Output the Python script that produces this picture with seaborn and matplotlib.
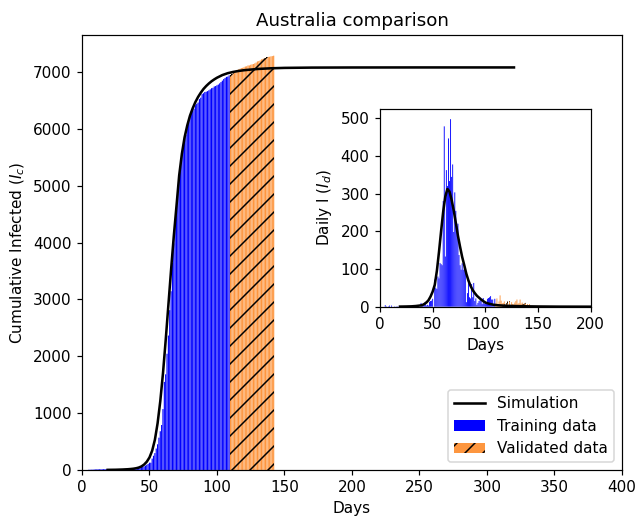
import numpy as np
import matplotlib
matplotlib.use("Agg")
import matplotlib.pyplot as plt
from matplotlib.lines import Line2D
from matplotlib.patches import Patch
import seaborn as sns

# ---- observed cumulative cases, day 0 .. day 142 ----
cum_cases = [
    0, 0, 0, 0, 0, 4, 5, 5, 6, 9,            # 0-9
    9, 12, 12, 12, 13, 13, 14, 15, 15, 15,   # 10-19
    15, 15, 15, 15, 15, 15, 15, 15, 15, 15,  # 20-29
    15, 15, 15, 15, 15, 15, 15, 15, 15, 25,  # 30-39
    27, 30, 39, 52, 55, 60, 63, 76, 91, 107,  # 40-49
    128, 128, 200, 250, 297, 377, 452, 568, 681, 791,  # 50-59
    1071, 1549, 1682, 2044, 2364, 2810, 3143, 3640, 3984, 4361,  # 60-69
    4559, 4862, 5116, 5330, 5550, 5687, 5797, 5895, 6010, 6108,  # 70-79
    6215, 6303, 6315, 6351, 6415, 6440, 6462, 6522, 6547, 6610,  # 80-89
    6625, 6647, 6652, 6662, 6677, 6694, 6714, 6721, 6744, 6752,  # 90-99
    6766, 6778, 6799, 6822, 6847, 6875, 6894, 6913, 6918, 6939,  # 100-109
    6948, 6970, 6975, 6989, 7019, 7035, 7044, 7054, 7068, 7072,  # 110-119
    7081, 7095, 7099, 7114, 7114, 7126, 7133, 7139, 7150, 7165,  # 120-129
    7184, 7192, 7202, 7221, 7229, 7240, 7247, 7255, 7265, 7267,  # 130-139
    7274, 7278, 7285,                                            # 140-142
]
train_end_day = 110   # first validation day

# ---- simulation ----
sim_days = [19, 25, 30, 34, 36, 38, 40, 42, 44, 46, 48, 50, 52, 54, 56, 58,
            60, 62, 64, 66, 68, 70, 72, 74, 76, 78, 80, 82, 84, 86, 88, 90,
            92, 94, 96, 98, 100, 104, 108, 112, 116, 120, 130, 140, 150,
            170, 200, 250, 320]
sim_cum = [2, 4, 8, 13, 17, 22, 30, 42, 62, 95, 145, 220, 340, 530, 820, 1210,
           1700, 2280, 2900, 3520, 4110, 4640, 5180, 5560, 5850, 6060, 6230,
           6360, 6470, 6560, 6635, 6700, 6752, 6797, 6836, 6869, 6898, 6945,
           6978, 7000, 7017, 7030, 7052, 7064, 7071, 7076, 7078, 7079, 7079]
sim_daily = [0.3, 0.6, 1, 1.8, 2.5, 3.2, 4, 7, 11, 17, 27, 40, 58, 95, 145, 200,
             252, 292, 312, 305, 283, 255, 222, 188, 159, 132, 110, 87, 69, 55,
             44, 36, 29, 24, 19, 15, 11, 7.5, 5, 3.8, 3, 2.5, 1.6, 1.0, 0.6,
             0.2, 0.05, 0, 0]

days = np.arange(len(cum_cases))
cum = np.array(cum_cases, dtype=float)
daily = np.diff(cum, prepend=0.0)
tr = days < train_end_day
va = ~tr

orange = "#fd963f"
DPI = 108
HATCH = "//"

plt.rcParams["font.family"] = ["DejaVu Sans"]
plt.rcParams["font.size"] = 10.2
plt.rcParams["hatch.linewidth"] = 1.0

fig = plt.figure(figsize=(641 / DPI, 525 / DPI), dpi=DPI)
ax = fig.add_axes([0.1279, 0.1048, 0.8424, 0.8286])

sns.barplot(x=days[tr], y=cum[tr], native_scale=True, color="blue",
            saturation=1, width=0.85, errorbar=None, ax=ax,
            edgecolor="none", linewidth=0, snap=False)
sns.barplot(x=days[va], y=cum[va], native_scale=True, color=orange,
            saturation=1, width=0.85, errorbar=None, ax=ax,
            edgecolor="none", linewidth=0, snap=False)
# continuous hatch over the validation bars
ax.fill_between(days[va], cum[va], step="mid", facecolor="none",
                edgecolor="black", hatch=HATCH, linewidth=0, zorder=3)
sns.lineplot(x=sim_days, y=sim_cum, color="black", lw=1.7, ax=ax, zorder=5)

ax.set_xlim(0, 400)
ax.set_ylim(0, 7650)
ax.set_xticks(np.arange(0, 401, 50))
ax.set_yticks(np.arange(0, 7001, 1000))
ax.set_xlabel("Days")
ax.set_ylabel("Cumulative Infected ($I_c$)")
ax.set_title("Australia comparison", fontsize=12.2)

handles = [
    Line2D([0], [0], color="black", lw=1.7),
    Patch(facecolor="blue", edgecolor="none"),
    Patch(facecolor=orange, edgecolor="black", hatch=HATCH, linewidth=0),
]
ax.legend(handles, ["Simulation", "Training data", "Validated data"],
          loc="lower right", fontsize=10.2)

# ---- inset ----
ax2 = fig.add_axes([0.5928, 0.4158, 0.3287, 0.3766])
sns.barplot(x=days[tr], y=daily[tr], native_scale=True, color="blue",
            saturation=1, width=0.85, errorbar=None, ax=ax2,
            edgecolor="none", linewidth=0, snap=False)
sns.barplot(x=days[va], y=daily[va], native_scale=True, color=orange,
            saturation=1, width=0.85, errorbar=None, ax=ax2,
            hatch=HATCH, edgecolor="black", linewidth=0, snap=False)
sns.lineplot(x=sim_days, y=sim_daily, color="black", lw=1.7, ax=ax2, zorder=5)
ax2.set_xlim(0, 200)
ax2.set_ylim(0, 524)
ax2.set_xticks(np.arange(0, 201, 50))
ax2.set_yticks(np.arange(0, 501, 100))
ax2.set_xlabel("Days")
ax2.set_ylabel("Daily I ($I_d$)")

fig.savefig("out.png", dpi=DPI)
